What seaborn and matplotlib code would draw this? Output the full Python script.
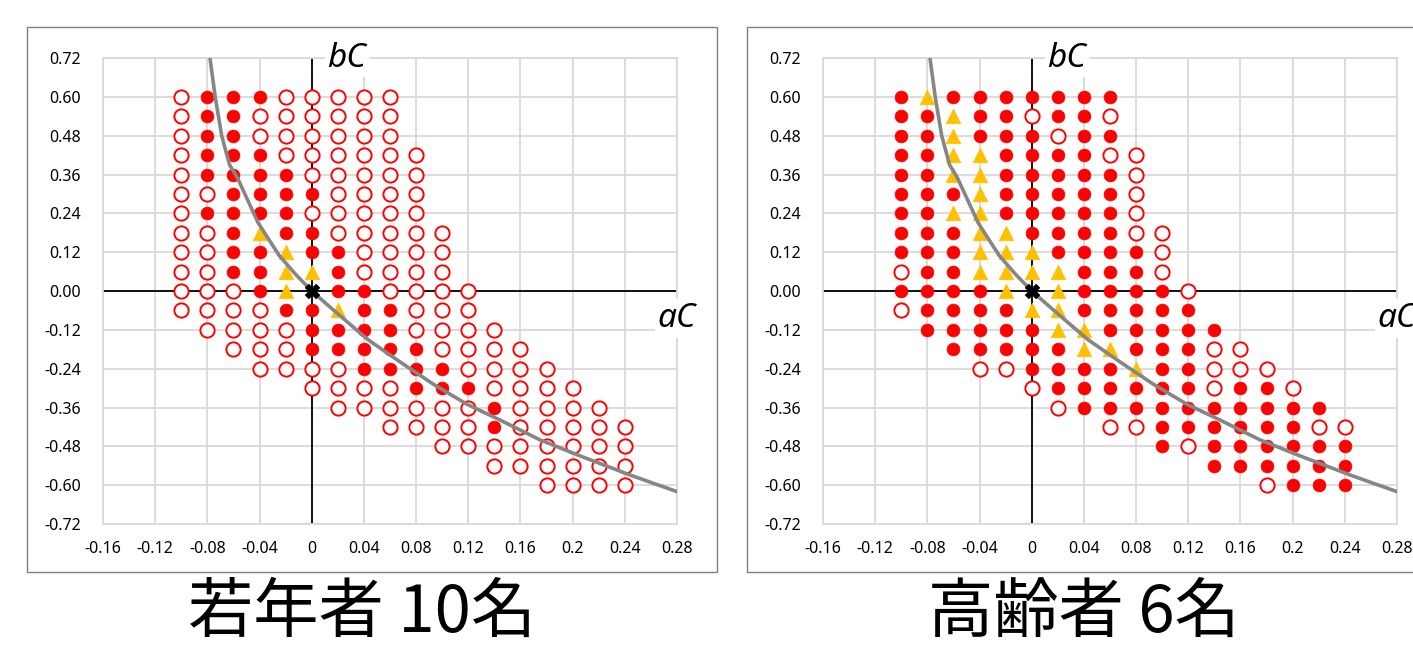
import seaborn as sns
import matplotlib.pyplot as plt
import pandas as pd
from matplotlib.patches import Rectangle

sns.set_style('white')
plt.rcParams['font.family'] = ['Noto Sans', 'Noto Sans CJK JP', 'DejaVu Sans']
plt.rcParams['text.color'] = 'black'

# ==========================
# DATA
# ==========================
# one row of test points per bC value, first aC of each row, step 0.02 in aC
row_bc = [0.60, 0.54, 0.48, 0.42, 0.36, 0.30, 0.24, 0.18, 0.12, 0.06, 0.00,
          -0.06, -0.12, -0.18, -0.24, -0.30, -0.36, -0.42, -0.48, -0.54, -0.60]
row_start = [-0.10, -0.10, -0.10, -0.10, -0.10, -0.10, -0.10, -0.10, -0.10, -0.10, -0.10,
             -0.10, -0.08, -0.06, -0.04, 0.00, 0.02, 0.06, 0.10, 0.14, 0.18]
AC_STEP = 0.02

# o = open circle, f = filled circle, t = triangle, x = origin
young = ['offfooooo', 'offoooooo', 'offoooooo', 'offfoooooo', 'offffooooo',
         'ooffffoooo', 'offffooooo', 'ooftffooooo', 'oofftffoooo', 'ooffttfoooo',
         'oooftxffoooo', 'oooofftffooo', 'ooooffffoooo', 'ooofffffoooo',
         'ooooffffoooo', 'oooofffoooo', 'oooooofoooo', 'oooofooooo',
         'oooooooo', 'oooooo', 'oooo']
elderly = ['ftfffffff', 'fftffoffo', 'fftfffoff', 'ffttffffoo', 'ffttfffffo',
           'ffftfffffo', 'ffttfffffo', 'fffttffffoo', 'ffftttffffo', 'offttttfffo',
           'fffftxtffffo', 'offffttfffff', 'fffffttfffff', 'fffffttfffoo',
           'oofffftffooo', 'offffffoffo', 'offffffffff', 'ooffffffoo',
           'foffffff', 'ffffff', 'offf']

# grey boundary curve
curve_ac = [-0.078, -0.074, -0.069, -0.063, -0.057, -0.049, -0.041, -0.033, -0.025,
            -0.012, 0.0, 0.017, 0.043, 0.068, 0.094, 0.119, 0.145, 0.175, 0.206,
            0.245, 0.28]
curve_bc = [0.72, 0.60, 0.48, 0.39, 0.35, 0.28, 0.21, 0.16, 0.11,
            0.05, 0.0, -0.06, -0.15, -0.22, -0.29, -0.35, -0.40, -0.46, -0.51,
            -0.57, -0.62]

x_ticks = [-0.16, -0.12, -0.08, -0.04, 0, 0.04, 0.08, 0.12, 0.16, 0.2, 0.24, 0.28]
x_tick_labels = ['-0.16', '-0.12', '-0.08', '-0.04', '0', '0.04', '0.08', '0.12',
                 '0.16', '0.2', '0.24', '0.28']
y_ticks = [0.72, 0.60, 0.48, 0.36, 0.24, 0.12, 0.0, -0.12, -0.24, -0.36, -0.48, -0.60, -0.72]
y_tick_labels = ['%.2f' % v for v in y_ticks]

titles = ['若年者 10名', '高齢者 6名']


def to_frame(codes):
    recs = []
    for bc, start, code in zip(row_bc, row_start, codes):
        for i, ch in enumerate(code):
            recs.append({'aC': round(start + AC_STEP * i, 2), 'bC': bc, 'kind': ch})
    return pd.DataFrame(recs)


def draw_panel(ax, codes):
    df = to_frame(codes)
    ax.set_xlim(-0.16, 0.28)
    ax.set_ylim(-0.72, 0.72)
    ax.grid(True, color='#d9d9d9', lw=1.3, zorder=0)
    ax.set_axisbelow(True)
    ax.axhline(0, color='black', lw=1.3, zorder=1)
    ax.axvline(0, color='black', lw=1.3, zorder=1)

    sns.lineplot(x=curve_ac, y=curve_bc, sort=False, estimator=None,
                 color='#868686', lw=2.6, ax=ax, zorder=5)

    sub = df[df.kind == 'o']
    sns.scatterplot(data=sub, x='aC', y='bC', marker='o', s=105, color='white',
                    edgecolor='#ff0000', linewidth=1.4, ax=ax, zorder=3)
    sub = df[df.kind == 'f']
    sns.scatterplot(data=sub, x='aC', y='bC', marker='o', s=85, color='#ff0000',
                    edgecolor='#ff0000', linewidth=0.5, ax=ax, zorder=3)
    sub = df[df.kind == 't']
    sns.scatterplot(data=sub, x='aC', y='bC', marker='^', s=110, color='#ffc000',
                    edgecolor='#ffc000', linewidth=0.5, ax=ax, zorder=3)
    sub = df[df.kind == 'x']
    sns.scatterplot(data=sub, x='aC', y='bC', marker='X', s=110, color='black',
                    edgecolor='black', linewidth=0.5, ax=ax, zorder=6)

    ax.set_xticks(x_ticks)
    ax.set_xticklabels(x_tick_labels)
    ax.set_yticks(y_ticks)
    ax.set_yticklabels(y_tick_labels)
    ax.tick_params(axis='both', length=0, labelsize=11.5, colors='#000000')
    ax.tick_params(axis='y', pad=16)
    ax.tick_params(axis='x', pad=12)
    ax.set_xlabel('')
    ax.set_ylabel('')
    for s in ax.spines.values():
        s.set_color('#d9d9d9')
        s.set_linewidth(1.3)

    box = dict(facecolor='white', edgecolor='none', pad=2)
    ax.text(0.027, 0.72, 'bC', fontsize=24, fontstyle='italic', ha='center', va='center',
            bbox=box, zorder=7, clip_on=False)
    ax.text(0.28, -0.085, 'aC', fontsize=24, fontstyle='italic', ha='center', va='center',
            bbox=box, zorder=7, clip_on=False)


fig = plt.figure(figsize=(14.13, 6.49), dpi=100)
W, H = 1413.0, 649.0
panels = [(103, young), (823, elderly)]
frames = [27, 747]
title_x = [362, 1084]

for (left, codes), fx, tx, title in zip(panels, frames, title_x, titles):
    fig.add_artist(Rectangle((fx / W, 1 - 572 / H), 690 / W, 545 / H, transform=fig.transFigure,
                             fill=False, edgecolor='#808080', lw=1.0))
    ax = fig.add_axes([left / W, 1 - 524 / H, 574 / W, 466 / H])
    draw_panel(ax, codes)
    fig.text(tx / W, 1 - 614 / H, title, fontsize=47, ha='center', va='center', color='black',
             family=['Noto Sans CJK JP', 'DejaVu Sans'])

fig.savefig('out.png', dpi=100)
